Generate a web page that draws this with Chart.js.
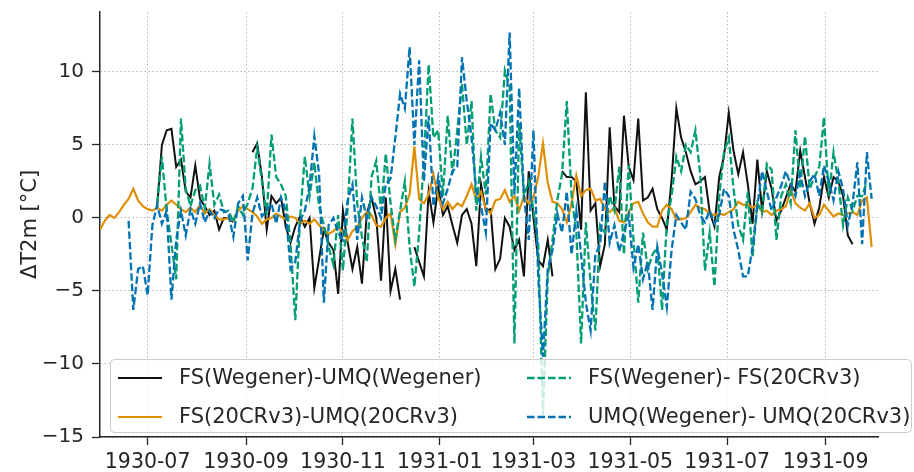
<!DOCTYPE html>
<html>
<head>
<meta charset="utf-8">
<script src="https://cdn.jsdelivr.net/npm/chart.js@4.4.1/dist/chart.umd.min.js"></script>
<style>
  html, body { margin: 0; padding: 0; background: #fff; }
  canvas { display: block; }
</style>
</head>
<body>
<canvas id="chart" width="914" height="472"></canvas>
<script>
/* Sampling grid: one value every 3 days from 1930-06-01 */
const startDate = '1930-06-01';
const stepDays = 3;
const endDate = '1931-10-04';

const tickDates  = ['1930-07-01','1930-09-01','1930-11-01','1931-01-01','1931-03-01','1931-05-01','1931-07-01','1931-09-01'];
const tickLabels = ['1930-07','1930-09','1930-11','1931-01','1931-03','1931-05','1931-07','1931-09'];
const yTicks = [-15, -10, -5, 0, 5, 10];

const seriesNames = ['FS(Wegener)-UMQ(Wegener)', 'FS(20CRv3)-UMQ(20CRv3)', 'FS(Wegener)- FS(20CRv3)', 'UMQ(Wegener)- UMQ(20CRv3)'];

// FS(Wegener)-UMQ(Wegener)
const fsWegUmqWeg = [
  null,null,null,null,null,null,null,null,null,null,
  null,null,0.8,5.0,6.0,6.1,3.5,4.0,1.8,1.4,
  3.6,1.3,0.8,0.2,0.5,-0.8,0.0,0.0,-0.3,null,
  null,null,4.5,5.1,2.8,-0.8,1.5,1.0,1.4,-0.6,
  -1.7,-0.6,0.1,-0.6,0.0,-4.8,-2.8,-0.8,-1.7,-2.2,
  -5.2,0.5,-1.7,-3.5,-2.0,-4.5,0.3,1.4,0.0,-4.3,
  1.4,-5.0,-3.5,-5.6,null,null,-2.0,-3.0,-4.0,1.8,
  -0.3,2.1,0.2,0.8,-0.5,-1.7,0.2,0.6,-0.4,-3.3,
  2.3,0.5,0.6,-3.5,-2.8,0.0,-0.6,-2.2,-1.5,-4.0,
  3.2,0.0,-2.9,-3.3,-1.5,-4.0,null,3.2,2.8,2.8,
  2.5,-0.8,8.6,0.5,1.0,-3.3,-1.8,6.2,0.8,0.4,
  7.0,3.5,2.6,6.8,1.2,1.4,2.0,0.6,0.0,-0.8,
  2.6,7.5,5.5,4.5,3.2,2.3,2.5,2.8,0.4,-0.6,
  2.8,4.2,7.2,4.6,3.0,4.5,2.3,-0.4,4.0,0.5,
  3.2,2.0,-0.2,0.5,1.4,2.3,1.8,4.6,2.8,1.0,
  -0.4,0.7,2.8,1.4,2.8,2.5,1.5,-1.2,-1.8,null,
  null,null,null
];

// FS(20CRv3)-UMQ(20CRv3)
const fs20crUmq20cr = [
  -0.8,-0.2,0.2,0.0,0.4,0.9,1.3,2.0,1.2,0.8,
  0.6,0.5,0.7,0.5,0.9,1.2,0.9,0.6,0.4,0.7,
  0.4,0.9,0.3,0.6,0.2,-0.1,-0.1,0.0,-0.2,0.5,
  0.8,0.6,0.4,0.1,-0.4,-0.1,0.0,0.3,0.1,-0.1,
  0.1,0.0,-0.4,-0.2,-0.4,-0.1,-0.5,-0.8,-1.1,-0.9,
  -0.6,-1.0,-1.5,-0.9,-0.6,0.0,0.4,0.2,-0.5,-0.6,
  0.0,0.3,-1.8,0.4,0.7,1.6,4.9,1.3,1.0,1.6,
  3.0,1.4,0.6,1.1,0.6,1.0,0.8,1.5,2.3,1.2,
  1.8,0.6,0.3,1.2,1.3,1.9,1.1,1.5,0.5,1.5,
  1.0,1.4,2.8,5.1,2.4,1.1,1.0,0.6,-0.3,1.0,
  2.9,1.5,1.9,2.0,1.2,1.3,0.6,0.4,0.7,-0.2,
  -0.3,0.4,1.0,1.1,0.3,-0.3,-0.6,-0.6,0.5,0.9,
  0.6,-0.1,-0.1,0.0,0.4,0.9,0.7,0.6,0.3,0.2,
  0.3,0.2,0.4,0.6,1.1,0.9,0.9,0.7,0.9,0.4,
  0.5,0.2,0.5,0.6,0.8,1.9,1.0,0.7,0.5,1.0,
  0.0,0.2,0.9,0.5,0.1,0.3,0.2,0.3,0.4,0.2,
  1.2,1.4,-2.0
];

// FS(Wegener)- FS(20CRv3)
const fsWegFs20cr = [
  null,null,null,null,null,null,null,null,null,null,
  null,null,1.0,4.2,0.5,-1.8,-4.2,6.8,2.0,0.8,
  1.9,2.2,0.7,3.7,0.9,1.6,0.4,0.5,-0.3,0.8,
  0.2,1.0,2.0,4.8,2.5,0.2,5.7,2.8,2.3,1.5,
  -1.8,-7.0,0.0,4.2,1.5,3.8,0.8,-0.5,-2.0,-3.2,
  0.2,-3.6,0.7,6.8,1.0,-1.3,-3.0,2.8,3.9,0.5,
  4.4,1.0,-1.5,0.5,2.5,-2.0,-4.7,-1.0,4.0,10.5,
  5.5,6.0,1.5,7.0,3.0,6.0,9.2,5.0,8.0,0.5,
  4.2,1.6,8.5,6.0,5.5,10.1,9.0,-8.6,6.5,1.5,
  2.5,0.5,-1.8,-13.5,-4.0,-1.5,1.2,3.0,8.0,1.5,
  -1.0,-8.6,-0.3,-4.5,-7.7,-0.5,-1.0,1.5,0.5,3.5,
  -2.5,3.6,-1.5,-5.8,-1.0,-3.5,-2.5,-2.0,-6.3,-0.3,
  1.5,4.2,3.2,5.0,4.5,6.0,3.0,-3.6,-1.0,-4.7,
  1.5,4.5,5.5,2.0,-0.5,-1.5,1.8,-2.7,1.0,0.4,
  3.7,3.3,-1.5,1.5,2.3,1.0,6.0,2.0,5.6,2.0,
  2.8,3.5,6.9,1.5,4.5,2.5,-0.5,1.4,0.5,1.5,
  1.5,2.5,null
];

// UMQ(Wegener)- UMQ(20CRv3)
const umqWegUmq20cr = [
  null,null,null,null,null,null,-0.2,-6.3,-3.5,-3.3,
  -5.3,-0.5,0.9,-0.4,0.5,-5.6,-1.5,0.5,-1.2,0.6,
  -0.4,1.0,-0.3,0.5,0.0,0.6,0.5,0.2,-1.3,1.0,
  1.5,-2.9,0.3,1.4,0.1,0.5,1.0,-0.4,1.4,0.5,
  -3.5,-3.0,-0.2,0.5,2.2,5.6,3.0,-5.8,-0.5,0.0,
  -1.0,-1.5,1.2,2.3,-1.5,1.4,0.0,1.4,0.8,0.0,
  2.3,2.7,5.5,8.5,7.5,11.7,5.0,10.8,2.5,7.0,
  0.8,2.8,1.0,2.0,3.2,3.5,11.0,8.0,5.5,1.8,
  0.8,-1.0,6.5,6.0,7.2,5.0,12.7,1.6,8.9,1.5,
  -1.5,6.0,-4.0,-9.5,-3.5,-2.2,0.3,-1.0,1.8,-2.5,
  0.5,-2.5,-5.8,-7.7,-2.5,-1.8,2.5,-1.7,-0.5,-2.3,
  -1.0,0.2,-3.4,-1.8,-4.2,-3.0,-6.3,-2.0,-3.8,-6.1,
  -2.2,0.2,-0.3,-0.8,1.8,1.3,0.2,-0.3,0.5,-0.4,
  0.2,2.0,1.5,-0.8,-2.2,-4.0,-4.0,-2.0,0.8,3.2,
  1.8,0.5,1.4,2.2,3.2,2.3,1.5,3.0,1.5,2.5,
  3.0,1.5,3.6,2.5,1.2,3.2,2.0,-0.5,1.0,3.8,
  -1.8,4.5,1.3
];

/* ── helpers ─────────────────────────────────────────── */
const t0 = Date.parse(startDate);
const dayOf = s => (Date.parse(s) - t0) / 864e5;
const toPoints = arr => arr.map((v, i) => ({ x: i * stepDays, y: v }));
const labelByDay = {};
tickDates.forEach((d, i) => { labelByDay[dayOf(d)] = tickLabels[i]; });

const INK = '#262626';
const FONT = '"DejaVu Sans", Verdana, sans-serif';

const styles = [
  { color: '#111111', dash: [],       width: 2,   order: 3 },
  { color: '#de8f05', dash: [],       width: 2.2, order: 2 },
  { color: '#029e73', dash: [7.5, 3], width: 2.3, order: 1 },
  { color: '#0173b2', dash: [7.5, 3], width: 2.3, order: 0 },
];
const seriesData = [fsWegUmqWeg, fs20crUmq20cr, fsWegFs20cr, umqWegUmq20cr];

const datasets = seriesData.map((arr, k) => ({
  label: seriesNames[k],
  data: toPoints(arr),
  borderColor: styles[k].color,
  borderWidth: styles[k].width,
  borderDash: styles[k].dash,
  pointRadius: 0,
  tension: 0,
  spanGaps: false,
  order: styles[k].order,
}));

/* ── legend box drawn inside the plot ────────────────── */
const boxLegend = {
  id: 'boxLegend',
  afterDraw(chart) {
    const ctx = chart.ctx;
    ctx.save();
    ctx.beginPath();
    ctx.roundRect(110.5, 359.5, 801, 73, 4);
    ctx.fillStyle = 'rgba(255,255,255,0.8)';
    ctx.fill();
    ctx.strokeStyle = '#cccccc';
    ctx.lineWidth = 1;
    ctx.stroke();

    const slots = [[118, 378], [118, 417], [527, 378], [527, 417]];
    ctx.font = '21px ' + FONT;
    ctx.textBaseline = 'middle';
    ctx.fillStyle = INK;
    slots.forEach(([x, y], k) => {
      ctx.beginPath();
      ctx.setLineDash(styles[k].dash);
      ctx.strokeStyle = styles[k].color;
      ctx.lineWidth = styles[k].width;
      ctx.moveTo(x, y);
      ctx.lineTo(x + 44, y);
      ctx.stroke();
      ctx.setLineDash([]);
      ctx.fillText(seriesNames[k], x + 61, y + 1);
    });
    ctx.restore();
  }
};

const noPad = s => { s.paddingTop = 0; s.paddingBottom = 0; s.paddingLeft = 0; s.paddingRight = 0; };

new Chart(document.getElementById('chart'), {
  type: 'line',
  data: { datasets },
  plugins: [boxLegend],
  options: {
    responsive: false,
    animation: false,
    devicePixelRatio: 1,
    layout: { padding: { top: 12, right: 36, left: 0, bottom: 0 } },
    plugins: { legend: { display: false }, tooltip: { enabled: false } },
    scales: {
      x: {
        type: 'linear',
        min: 0,
        max: dayOf(endDate),
        afterBuildTicks: s => { s.ticks = tickDates.map(d => ({ value: dayOf(d) })); },
        afterFit: s => { s.height = 35; noPad(s); },
        ticks: {
          autoSkip: false, maxRotation: 0, padding: 5,
          color: INK, font: { family: FONT, size: 20.5 },
          callback: v => labelByDay[v] ?? '',
        },
        grid: { color: '#b3b3b3', lineWidth: 1, tickLength: 8, tickColor: INK, tickWidth: 1.3 },
        border: { color: INK, width: 1.5, dash: [1.5, 2.5] },
      },
      y: {
        min: -15,
        max: 14.1,
        afterBuildTicks: s => { s.ticks = yTicks.map(v => ({ value: v })); },
        afterFit: s => { s.width = 100; noPad(s); },
        ticks: {
          padding: 8, color: INK, font: { family: FONT, size: 20 },
          callback: v => String(v).replace('-', '\u2212'),
        },
        title: {
          display: true, text: '\u0394T2m [\u00b0C]', color: INK,
          font: { family: FONT, size: 21 }, padding: { top: 18, bottom: 0 },
        },
        grid: { color: '#b3b3b3', lineWidth: 1, tickLength: 8, tickColor: INK, tickWidth: 1.3 },
        border: { color: INK, width: 1.5, dash: [1.5, 2.5] },
      }
    }
  }
});
</script>
</body>
</html>
